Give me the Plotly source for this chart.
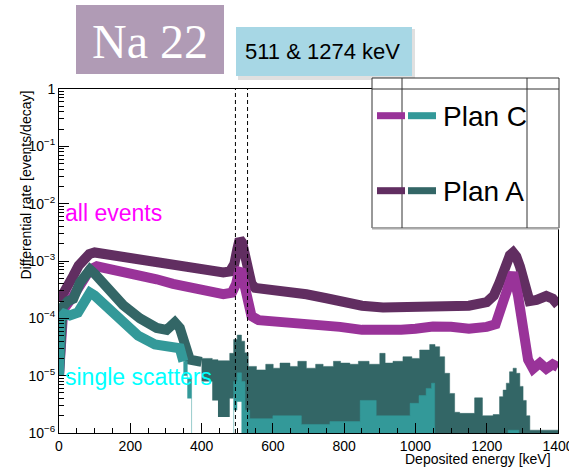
import plotly.graph_objects as go

# ---------------- data ----------------
ZERO = 1e-7  # empty bins (below the axis range)

# Plan A, all events (dark purple)
E_allA = [0, 15, 40, 55, 68, 85, 100, 130, 180, 230, 274, 320, 367, 420, 461, 480, 492, 500, 507, 514,
          520, 528, 540, 550, 601, 650, 694, 750, 800, 850, 909, 960, 1000, 1049, 1100, 1150, 1200, 1220, 1236, 1255,
          1265, 1274, 1283, 1293, 1307, 1320, 1340, 1367, 1385, 1400]
y_allA = [2.0e-4, 2.8e-4, 5.5e-4, 8.3e-4, 1.07e-3, 1.32e-3, 1.41e-3, 1.32e-3, 1.15e-3, 1.05e-3,
          9.3e-4, 8.5e-4, 7.6e-4, 6.9e-4, 6.3e-4, 6.6e-4, 8.9e-4, 1.58e-3, 2.4e-3, 2.1e-3,
          1.41e-3, 7.9e-4, 4.0e-4, 3.4e-4, 3.2e-4, 2.95e-4, 2.63e-4, 2.24e-4, 1.91e-4, 1.66e-4,
          1.55e-4, 1.58e-4, 1.66e-4, 1.74e-4, 1.74e-4, 1.66e-4, 1.91e-4, 2.5e-4, 4.2e-4, 9.3e-4,
          1.26e-3, 1.41e-3, 1.2e-3, 8.1e-4, 3.6e-4, 2.0e-4, 2.1e-4, 2.45e-4, 2.2e-4, 1.7e-4]

# Plan C, all events (magenta)
E_allC = [0, 5, 12, 40, 68, 87, 106, 140, 180, 230, 274, 320, 367, 420, 461, 485, 497, 505, 510, 516,
          526, 540, 560, 601, 650, 694, 750, 788, 850, 909, 960, 1000, 1049, 1100, 1150, 1200, 1225, 1245, 1264, 1274,
          1288, 1302, 1316, 1330, 1349, 1367, 1385, 1400]
y_allC = [1.0e-5, 1.12e-4, 1.41e-4, 2.45e-4, 4.2e-4, 7.1e-4, 8.1e-4, 7.4e-4, 6.3e-4, 5.5e-4,
          4.8e-4, 4.0e-4, 3.4e-4, 2.95e-4, 2.63e-4, 2.8e-4, 4.0e-4, 6.6e-4, 7.1e-4, 5.0e-4,
          2.14e-4, 1.1e-4, 9.3e-5, 8.9e-5, 8.7e-5, 8.3e-5, 7.6e-5, 7.1e-5, 6.3e-5, 6.0e-5,
          6.3e-5, 6.6e-5, 7.2e-5, 7.1e-5, 6.6e-5, 7.1e-5, 7.9e-5, 1.86e-4, 4.7e-4, 6.3e-4,
          2.45e-4, 6.3e-5, 1.9e-5, 1.32e-5, 1.66e-5, 1.32e-5, 1.58e-5, 1.41e-5]

# Plan A, single scatters (dark teal): smooth part
E_sglA = [0, 3, 10, 25, 40, 59, 78, 87, 100, 134, 180, 227, 274, 302, 325, 339, 353, 367, 400]
y_sglA = [1.0e-5, 1.41e-4, 1.58e-4, 2.0e-4, 2.19e-4, 4.2e-4, 6.3e-4, 7.1e-4, 6.0e-4, 3.3e-4,
          1.7e-4, 1.0e-4, 6.8e-5, 6.3e-5, 8.5e-5, 6.8e-5, 3.0e-5, 1.9e-5, 1.74e-5]
# Plan A, single scatters: low-statistics part (bin tops / bottoms of the error band)
E_sglA_band = [400, 430, 446, 479, 490, 500, 512, 521, 531, 554,
               580, 601, 620, 648, 670, 694, 720, 741, 770, 790,
               816, 840, 870, 900, 915, 937, 965, 990, 1012, 1040,
               1055, 1068, 1082, 1096, 1110, 1124, 1166, 1188, 1218, 1236,
               1246, 1255, 1264, 1274, 1283, 1293, 1302, 1311, 1321, 1400]
hi_sglA = [2.0e-5, 1.9e-5, 1.82e-5, 2.45e-5, 4.27e-5, 5.1e-5, 4.0e-5, 2.5e-5, 1.45e-5, 1.26e-5,
           1.58e-5, 1.35e-5, 1.66e-5, 1.45e-5, 1.78e-5, 1.35e-5, 1.58e-5, 1.45e-5, 1.78e-5, 1.66e-5,
           1.58e-5, 1.78e-5, 1.58e-5, 2.45e-5, 1.66e-5, 1.78e-5, 2.14e-5, 2.0e-5, 2.8e-5, 3.5e-5,
           3.2e-5, 2.14e-5, 1.1e-5, 4.9e-6, 2.3e-6, 2.2e-6, 4.1e-6, 2.0e-6, 2.1e-6, 4.3e-6,
           5.6e-6, 7.4e-6, 1.17e-5, 1.35e-5, 1.1e-5, 6.5e-6, 3.7e-6, 2.0e-6, 1.12e-6, 1.12e-6]
lo_sglA = [7.9e-6, 3.7e-6, 1.9e-6, 4.0e-6, 4.3e-6, 6.5e-6, 4.3e-6, ZERO, ZERO, ZERO,
           ZERO, ZERO, ZERO, ZERO, ZERO, ZERO, ZERO, ZERO, ZERO, ZERO,
           ZERO, ZERO, ZERO, ZERO, ZERO, ZERO, ZERO, ZERO, ZERO, ZERO,
           ZERO, ZERO, ZERO, ZERO, ZERO, ZERO, ZERO, ZERO, ZERO, ZERO,
           ZERO, ZERO, ZERO, ZERO, ZERO, ZERO, ZERO, ZERO, ZERO, ZERO]

# Plan C, single scatters (light teal): smooth part
E_sglC = [0, 3, 15, 30, 53, 70, 87, 100, 129, 176, 222, 269, 316, 339, 349]
y_sglC = [1.0e-5, 1.0e-4, 1.2e-4, 1.12e-4, 1.26e-4, 2.0e-4, 2.8e-4, 2.5e-4, 1.74e-4, 8.5e-5,
          5.0e-5, 3.5e-5, 3.0e-5, 3.0e-5, 1.78e-5]
# Plan C, single scatters: low-statistics part
E_sglC_band = [349, 360, 372, 490, 500, 512, 522, 535, 600, 680,
               760, 845, 890, 985, 1010, 1030, 1045, 1054, 1260, 1290, 1400]
hi_sglC = [1.78e-5, 8.9e-6, ZERO, 7.9e-6, 1.12e-5, 7.9e-6, 2.5e-6, 1.78e-6, 2.0e-6, 1.41e-6,
           1.58e-6, 3.7e-6, 2.0e-6, 3.3e-6, 4.5e-6, 6.0e-6, 7.4e-6, ZERO, 1.12e-6, ZERO, ZERO]
lo_sglC = [1.0e-5, 4.0e-6, ZERO, 2.5e-6, 3.5e-6, ZERO, ZERO, ZERO, ZERO, ZERO,
           ZERO, ZERO, ZERO, ZERO, ZERO, ZERO, ZERO, ZERO, ZERO, ZERO, ZERO]

peak_window = [495, 529]   # dashed lines around 511 keV
x_ticks = [0, 200, 400, 600, 800, 1000, 1200, 1400]
y_ticks = [1e-6, 1e-5, 1e-4, 1e-3, 1e-2, 1e-1, 1]
y_ticktext = ["10<sup>\u22126</sup>", "10<sup>\u22125</sup>", "10<sup>\u22124</sup>", "10<sup>\u22123</sup>",
              "10<sup>\u22122</sup>", "10<sup>\u22121</sup>", "1"]

# ---------------- style ----------------
C_ALL_A = "#612e61"
C_ALL_C = "#993399"
C_SGL_A = "#336666"
C_SGL_C = "#339999"
FONT = "Liberation Sans, Arial, Helvetica, sans-serif"
LW = 10

fig = go.Figure()


def band(E, hi, lo, color):
    fig.add_trace(go.Scatter(x=E, y=lo, mode="lines", line=dict(color=color, width=0, shape="hv"),
                             showlegend=False, hoverinfo="skip"))
    fig.add_trace(go.Scatter(x=E, y=hi, mode="lines", line=dict(color=color, width=0.5, shape="hv"),
                             fill="tonexty", fillcolor=color, showlegend=False, hoverinfo="skip"))


fig.add_trace(go.Scatter(x=E_allA, y=y_allA, mode="lines", line=dict(color=C_ALL_A, width=LW),
                         showlegend=False))
fig.add_trace(go.Scatter(x=E_allC, y=y_allC, mode="lines", line=dict(color=C_ALL_C, width=LW),
                         showlegend=False))
fig.add_trace(go.Scatter(x=E_sglA, y=y_sglA, mode="lines", line=dict(color=C_SGL_A, width=LW),
                         showlegend=False))
band(E_sglA_band, hi_sglA, lo_sglA, C_SGL_A)
fig.add_trace(go.Scatter(x=E_sglC, y=y_sglC, mode="lines", line=dict(color=C_SGL_C, width=LW),
                         showlegend=False))
band(E_sglC_band, hi_sglC, lo_sglC, C_SGL_C)

# dashed lines
for xv in peak_window:
    fig.add_shape(type="line", xref="x", yref="paper", x0=xv, x1=xv, y0=0, y1=1,
                  line=dict(color="black", width=1, dash="4px,3px"))

# minor ticks on log axis
minor_y = [k * 10.0 ** n for n in range(-6, 0) for k in range(2, 10)]

fig.update_layout(
    width=569, height=471,
    margin=dict(l=59, r=11, t=89, b=38, autoexpand=False),
    paper_bgcolor="white", plot_bgcolor="white",
    font=dict(family=FONT, size=14, color="black"),
    showlegend=False,
    xaxis=dict(range=[0, 1400], tickvals=x_ticks, ticks="inside", ticklen=10, tickcolor="black",
               showline=True, linecolor="black", linewidth=1, mirror=True, showgrid=False, zeroline=False,
               tickfont=dict(size=14, family=FONT), ticklabeloverflow="allow", automargin=False,
               minor=dict(ticks="inside", ticklen=5, dtick=50, tick0=0, tickcolor="black", showgrid=False)),
    yaxis=dict(type="log", range=[-6, 0], tickvals=y_ticks, ticktext=y_ticktext, ticks="inside", ticklen=10,
               tickcolor="black", showline=True, linecolor="black", linewidth=1, mirror=True, automargin=False,
               showgrid=False, zeroline=False, tickfont=dict(size=14, family=FONT),
               minor=dict(ticks="inside", ticklen=5, tickvals=minor_y, tickcolor="black", showgrid=False)),
)

W, H = 499.0, 344.0


def px(xp):
    return (xp - 59) / W


def py(yp):
    return (433 - yp) / H


shapes = []
# title boxes
shapes.append(dict(type="rect", xref="paper", yref="paper", x0=px(76), x1=px(224), y0=py(74), y1=py(5),
                   fillcolor="#b09bb5", line=dict(width=0), layer="above"))
shapes.append(dict(type="rect", xref="paper", yref="paper", x0=px(238), x1=px(415), y0=py(80), y1=py(29),
                   fillcolor="rgba(0,0,0,0.12)", line=dict(width=0), layer="above"))
shapes.append(dict(type="rect", xref="paper", yref="paper", x0=px(236), x1=px(412), y0=py(76), y1=py(27),
                   fillcolor="#a7d7e5", line=dict(width=0), layer="above"))
# legend box
shapes.append(dict(type="rect", xref="paper", yref="paper", x0=px(372), x1=px(559), y0=py(228), y1=py(78),
                   fillcolor="white", line=dict(color="#333333", width=1), layer="above"))
shapes.append(dict(type="line", xref="paper", yref="paper", x0=px(372), x1=px(559), y0=py(228.5), y1=py(228.5),
                   line=dict(color="#aaaaaa", width=2), layer="above"))
shapes.append(dict(type="line", xref="paper", yref="paper", x0=px(372), x1=px(559), y0=py(89), y1=py(89),
                   line=dict(color="#333333", width=1), layer="above"))
for xv in (402, 527):
    shapes.append(dict(type="line", xref="paper", yref="paper", x0=px(xv), x1=px(xv), y0=py(228), y1=py(78),
                       line=dict(color="#333333", width=1), layer="above"))
legend_rows = [("Plan C", C_ALL_C, C_SGL_C, 115.7), ("Plan A", C_ALL_A, C_SGL_A, 190.7)]
for name, c1, c2, yy in legend_rows:
    shapes.append(dict(type="line", xref="paper", yref="paper", x0=px(377), x1=px(405), y0=py(yy), y1=py(yy),
                       line=dict(color=c1, width=7), layer="above"))
    shapes.append(dict(type="line", xref="paper", yref="paper", x0=px(408), x1=px(436), y0=py(yy), y1=py(yy),
                       line=dict(color=c2, width=7), layer="above"))
for s in shapes:
    fig.add_shape(**s)

ann = [
    dict(text="Na 22", x=px(150), y=py(42), xanchor="center", yanchor="middle",
         font=dict(family="Liberation Serif, DejaVu Serif, serif", size=48, color="white")),
    dict(text="511 & 1274 keV", x=px(322), y=py(51), xanchor="center", yanchor="middle",
         font=dict(family=FONT, size=22, color="black")),
    dict(text="Plan C", x=px(441), y=py(116), xanchor="left", yanchor="middle",
         font=dict(family=FONT, size=28, color="black")),
    dict(text="Plan A", x=px(441), y=py(191), xanchor="left", yanchor="middle",
         font=dict(family=FONT, size=28, color="black")),
    dict(text="all events", x=px(63), y=py(213), xanchor="left", yanchor="middle",
         font=dict(family=FONT, size=23, color="#ff00ff")),
    dict(text="single scatters", x=px(63), y=py(377), xanchor="left", yanchor="middle",
         font=dict(family=FONT, size=23, color="#00ffff")),
    dict(text="Deposited energy [keV]", x=px(553), y=py(459), xanchor="right", yanchor="middle",
         font=dict(family=FONT, size=14, color="black")),
    dict(text="Differential rate [events/decay]", x=px(25), y=py(89), xanchor="center", yanchor="top",
         textangle=-90, font=dict(family=FONT, size=14, color="black")),
]
for a in ann:
    fig.add_annotation(xref="paper", yref="paper", showarrow=False, **a)

fig.write_html("out.html")
